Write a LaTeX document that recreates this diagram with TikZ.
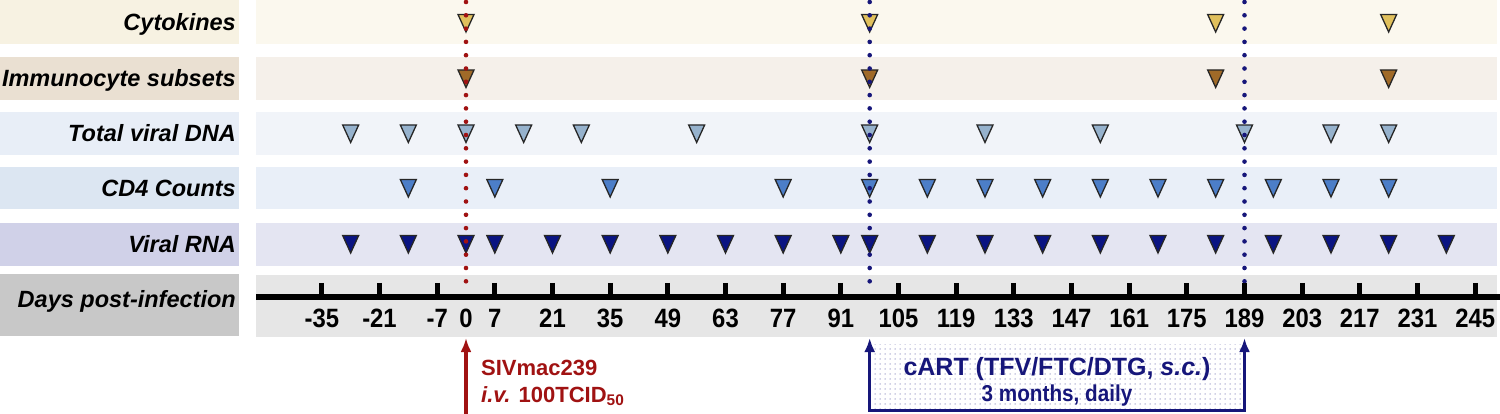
\documentclass[tikz,border=0pt]{standalone}
\usepackage{fontspec}
\setmainfont{Liberation Sans}
\newfontfamily\narrowfont[FakeStretch=0.9]{Liberation Sans}
\usetikzlibrary{arrows.meta}
\usetikzlibrary{patterns.meta}

\definecolor{cytobox}{RGB}{247,242,226}
\definecolor{cytoband}{RGB}{251,248,238}
\definecolor{cytofill}{RGB}{224,192,92}
\definecolor{immubox}{RGB}{234,224,210}
\definecolor{immuband}{RGB}{245,240,234}
\definecolor{immufill}{RGB}{160,106,40}
\definecolor{dnabox}{RGB}{232,238,247}
\definecolor{dnaband}{RGB}{241,244,249}
\definecolor{dnafill}{RGB}{150,178,205}
\definecolor{cdbox}{RGB}{220,230,242}
\definecolor{cdband}{RGB}{233,239,248}
\definecolor{cdfill}{RGB}{76,126,200}
\definecolor{rnabox}{RGB}{208,209,232}
\definecolor{rnaband}{RGB}{228,229,242}
\definecolor{rnafill}{RGB}{10,20,130}
\definecolor{daybox}{RGB}{200,200,200}
\definecolor{dayband}{RGB}{230,230,230}
\definecolor{infred}{RGB}{160,18,18}
\definecolor{cartblue}{RGB}{22,22,122}

\begin{document}
\begin{tikzpicture}[x=1pt, y=-1pt,
    rowlabel/.style={anchor=base east, inner sep=0pt, font=\fontsize{23.5}{27}\selectfont\bfseries\itshape},
    ticklabel/.style={inner sep=0pt, font=\narrowfont\fontsize{26.5}{29}\selectfont\bfseries},
    notetext/.style={inner sep=0pt, font=\fontsize{22}{26}\selectfont\bfseries},
    tickline/.style={line width=5pt},
    axisline/.style={line width=6pt},
    dotline/.style={line width=4.6pt, line cap=round, dash pattern=on 0pt off 13.3pt},
    sampletri/.pic={\path[pic actions, draw=black!85, line width=1.3pt, line join=miter]
        (-8,-8.5) -- (8,-8.5) -- (0,9) -- cycle;},
    noteline/.style={line width=3.4pt, -{Latex[length=14pt,width=11pt]}},
    cartline/.style={line width=3pt, {Latex[length=14pt,width=11pt]}-{Latex[length=14pt,width=11pt]}}]

    \useasboundingbox (0,0) rectangle (1500,414);

    % row labels and bands
    \fill [cytobox] (0,0) rectangle (239,44);
    \fill [cytoband] (256,0) rectangle (1497,44);
    \node [rowlabel] (cytolabel) at (236,31) {Cytokines};

    \fill [immubox] (0,57) rectangle (239,100);
    \fill [immuband] (256,57) rectangle (1497,100);
    \node [rowlabel] (immulabel) at (236,87) {Immunocyte subsets};

    \fill [dnabox] (0,112) rectangle (239,155);
    \fill [dnaband] (256,112) rectangle (1497,155);
    \node [rowlabel] (dnalabel) at (236,142) {Total viral DNA};

    \fill [cdbox] (0,167) rectangle (239,209);
    \fill [cdband] (256,167) rectangle (1497,209);
    \node [rowlabel] (cdlabel) at (236,196.5) {CD4 Counts};

    \fill [rnabox] (0,223) rectangle (239,266);
    \fill [rnaband] (256,223) rectangle (1497,266);
    \node [rowlabel] (rnalabel) at (236,253) {Viral RNA};

    \fill [daybox] (0,274) rectangle (239,336);
    \fill [dayband] (256,275) rectangle (1497,337);
    \node [rowlabel] (daylabel) at (236,307) {Days post-infection};

    % sampling days, x = 466 + 4.119*day
    \foreach \d in {0,98,182,224}
        \pic [fill=cytofill] at ({466+4.119*\d},23) {sampletri};
    \foreach \d in {0,98,182,224}
        \pic [fill=immufill] at ({466+4.119*\d},78.5) {sampletri};
    \foreach \d in {-28,-14,0,14,28,56,98,126,154,189,210,224}
        \pic [fill=dnafill] at ({466+4.119*\d},133.5) {sampletri};
    \foreach \d in {-14,7,35,77,98,112,126,140,154,168,182,196,210,224}
        \pic [fill=cdfill] at ({466+4.119*\d},188) {sampletri};
    \foreach \d in {-28,-14,0,7,21,35,49,63,77,91,98,112,126,140,154,168,182,196,210,224,238}
        \pic [fill=rnafill] at ({466+4.119*\d},244) {sampletri};

    % infection and treatment days
    \coordinate (inftop) at (466,2);
    \coordinate (infaxis) at (466,294);
    \coordinate (cartltop) at (869.7,2);
    \coordinate (cartlaxis) at (869.7,294);
    \coordinate (cartrtop) at (1244.5,2);
    \coordinate (cartraxis) at (1244.5,294);
    \draw [dotline, infred] (inftop) -- (infaxis);
    \draw [dotline, cartblue] (cartltop) -- (cartlaxis);
    \draw [dotline, cartblue] (cartrtop) -- (cartraxis);

    % time axis
    \draw [axisline] (256,297) -- (1500,297);
    \foreach \d in {-35,-21,...,245}
        \draw [tickline] ({466+4.119*\d},283) -- ({466+4.119*\d},296);
    \foreach \d in {-35,-21,-7,0,7,21,35,49,63,77,91,105,119,133,147,161,175,189,203,217,231,245}
        \node [ticklabel] (tick\d) at ({466+4.119*\d},318.5) {\d};

    % SIV challenge
    \coordinate (infbase) at (466,414);
    \coordinate (inftip) at (466,338);
    \draw [noteline, infred] (infbase) -- (inftip);
    \node [notetext, infred, anchor=base west] (sivname) at (481,375) {SIVmac239};
    \node [notetext, infred, anchor=base west] (sivdose) at (481,402) {\textit{i.v.} 100TCID\textsubscript{50}};

    % cART window
    \fill [pattern={Dots[distance=5pt, radius=0.75pt]}, pattern color=cartblue!40] (869.7,344) rectangle (1244.5,410);
    \coordinate (cartltip) at (869.7,338);
    \coordinate (cartlbot) at (869.7,410);
    \coordinate (cartrbot) at (1244.5,410);
    \coordinate (cartrtip) at (1244.5,338);
    \draw [cartline, cartblue] (cartltip) -- (cartlbot) -- (cartrbot) -- (cartrtip);
    \node [notetext, cartblue, anchor=base, font=\fontsize{25}{28}\selectfont\bfseries] (cartdrugs) at (1057,375) {cART (TFV/FTC/DTG, \textit{s.c.})};
    \node [notetext, cartblue, anchor=base, font=\narrowfont\fontsize{23}{26}\selectfont\bfseries] (cartlength) at (1057,401) {3 months, daily};
\end{tikzpicture}
\end{document}
